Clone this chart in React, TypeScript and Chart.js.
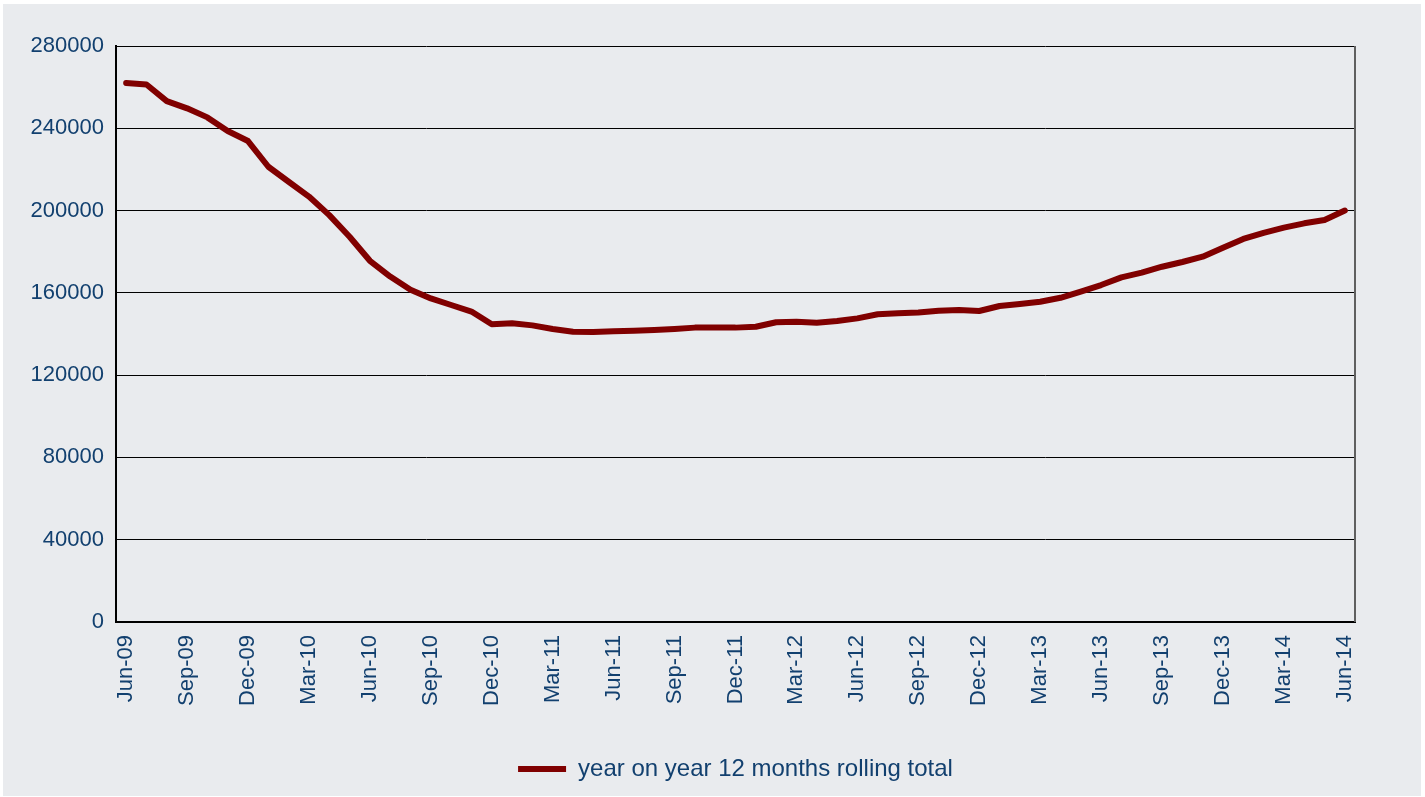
import React, { useEffect, useRef } from "react";
import { Chart, registerables } from "chart.js";

Chart.register(...registerables);

const months: string[] = [
  "Jun-09", "Jul-09", "Aug-09", "Sep-09", "Oct-09", "Nov-09", "Dec-09",
  "Jan-10", "Feb-10", "Mar-10", "Apr-10", "May-10", "Jun-10", "Jul-10", "Aug-10", "Sep-10", "Oct-10", "Nov-10", "Dec-10",
  "Jan-11", "Feb-11", "Mar-11", "Apr-11", "May-11", "Jun-11", "Jul-11", "Aug-11", "Sep-11", "Oct-11", "Nov-11", "Dec-11",
  "Jan-12", "Feb-12", "Mar-12", "Apr-12", "May-12", "Jun-12", "Jul-12", "Aug-12", "Sep-12", "Oct-12", "Nov-12", "Dec-12",
  "Jan-13", "Feb-13", "Mar-13", "Apr-13", "May-13", "Jun-13", "Jul-13", "Aug-13", "Sep-13", "Oct-13", "Nov-13", "Dec-13",
  "Jan-14", "Feb-14", "Mar-14", "Apr-14", "May-14", "Jun-14",
];

const rollingTotal: number[] = [
  262000, 261300, 253200, 249700, 245300, 238700, 233800,
  221300, 214000, 206800, 197800, 187300, 175600, 167900, 161500, 157300, 154100, 150900, 144700,
  145200, 144200, 142400, 141100, 141000, 141300, 141600, 141900, 142400, 143100, 143200, 143100,
  143500, 145700, 146000, 145500, 146300, 147600, 149600, 150100, 150400, 151300, 151700, 151200,
  153600, 154600, 155700, 157600, 160600, 163800, 167500, 169800, 172700, 175000, 177600, 181900,
  186200, 189200, 191700, 193800, 195400, 200000,
];

const seriesLabel = "year on year 12 months rolling total";
const yTickMin = 0;
const yTickMax = 280000;
const yTickStep = 40000;
const labelEvery = 3;

const TEXT = "#12406f";
const FONT = "'Liberation Sans', Arial, sans-serif";

const rightBorder = {
  id: "rightBorder",
  afterDraw(chart: any) {
    const { ctx, chartArea } = chart;
    ctx.save();
    ctx.strokeStyle = "#5f5f5f";
    ctx.lineWidth = 2;
    ctx.beginPath();
    ctx.moveTo(chartArea.right, chartArea.top);
    ctx.lineTo(chartArea.right, chartArea.bottom);
    ctx.stroke();
    ctx.restore();
  },
};

export default function App() {
  const ref = useRef<HTMLCanvasElement | null>(null);

  useEffect(() => {
    if (!ref.current) return;
    const chart = new Chart(ref.current, {
      type: "line",
      data: {
        labels: months,
        datasets: [
          {
            label: seriesLabel,
            data: rollingTotal,
            borderColor: "#800000",
            backgroundColor: "#800000",
            borderWidth: 6,
            pointRadius: 0,
            pointHoverRadius: 0,
            tension: 0,
            borderCapStyle: "round",
            borderJoinStyle: "round",
            pointStyle: "line",
          },
        ],
      },
      options: {
        animation: false,
        responsive: false,
        devicePixelRatio: 1,
        layout: { padding: { left: 0, top: 42, right: 66, bottom: 5 } },
        plugins: {
          tooltip: { enabled: false },
          legend: {
            display: true,
            position: "bottom",
            fullSize: false,
            labels: {
              usePointStyle: true,
              pointStyle: "line",
              pointStyleWidth: 48,
              boxWidth: 48,
              padding: 10,
              color: TEXT,
              font: { family: FONT, size: 24 },
            },
          },
        },
        scales: {
          x: {
            type: "category",
            offset: true,
            grid: { display: false, drawTicks: false },
            border: { display: true, color: "#000000", width: 2 },
            ticks: {
              autoSkip: false,
              maxRotation: 90,
              minRotation: 90,
              padding: 13,
              color: TEXT,
              font: { family: FONT, size: 22 },
              callback: (_v: any, i: number) => (i % labelEvery === 0 ? months[i] : null),
            },
            afterFit: (s: any) => {
              s.height = 125;
            },
          },
          y: {
            min: yTickMin,
            max: yTickMax,
            grid: { color: "#000000", lineWidth: 1, drawTicks: false },
            border: { display: true, color: "#000000", width: 2 },
            ticks: {
              stepSize: yTickStep,
              padding: 12,
              color: TEXT,
              font: { family: FONT, size: 22 },
              callback: (v: any) => String(v),
            },
            afterFit: (s: any) => {
              s.width = 113;
            },
          },
        },
      },
      plugins: [rightBorder],
    });
    return () => chart.destroy();
  }, []);

  return (
    <div style={{ position: "fixed", left: 0, top: 0, width: 1425, height: 797, background: "#ffffff" }}>
      <div style={{ position: "absolute", left: 3, top: 4, width: 1418, height: 792, background: "#e9ebee" }}>
        <canvas ref={ref} width={1418} height={792} style={{ width: 1418, height: 792, display: "block" }} />
      </div>
    </div>
  );
}
